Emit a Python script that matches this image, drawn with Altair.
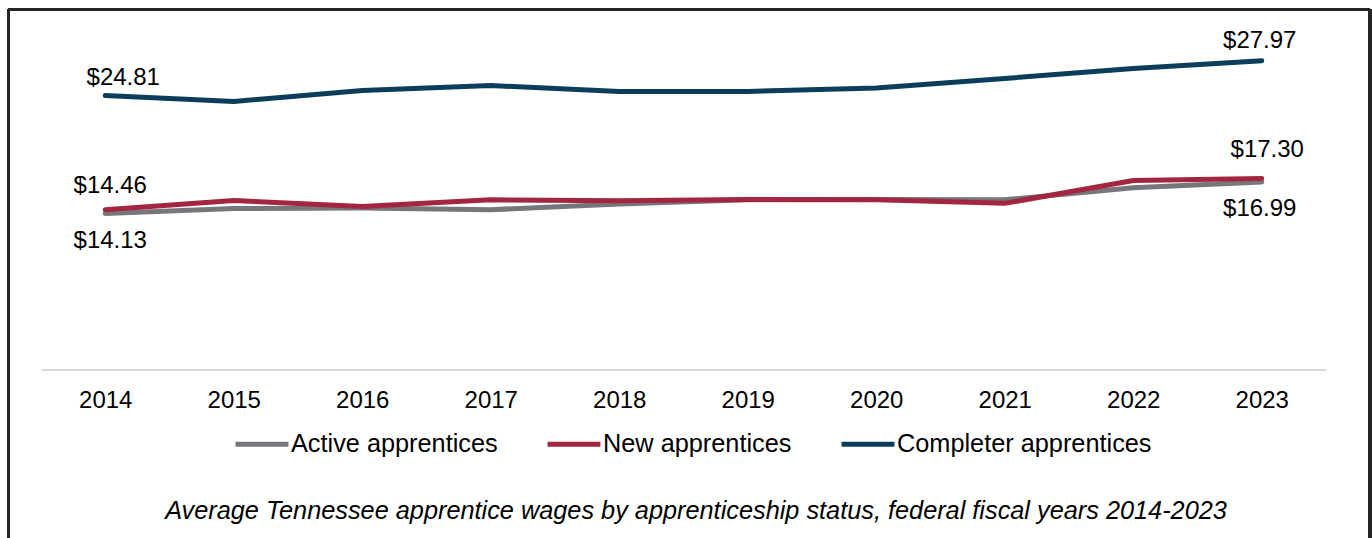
import altair as alt
import pandas as pd

# Average hourly wages (USD) by apprenticeship status, FFY 2014-2023
years = [2014, 2015, 2016, 2017, 2018, 2019, 2020, 2021, 2022, 2023]
active = [14.13, 14.58, 14.62, 14.47, 15.00, 15.38, 15.40, 15.37, 16.46, 16.99]
new = [14.46, 15.31, 14.76, 15.37, 15.28, 15.40, 15.37, 15.05, 17.12, 17.30]
completer = [24.81, 24.28, 25.27, 25.72, 25.18, 25.18, 25.50, 26.36, 27.26, 27.97]

series_names = ["Active apprentices", "New apprentices", "Completer apprentices"]
series_colors = ["#76777b", "#a4253f", "#0c3d5c"]

rows = []
for name, vals in zip(series_names, [active, new, completer]):
    for yr, v in zip(years, vals):
        rows.append({"year": str(yr), "series": name, "wage": v})
df = pd.DataFrame(rows)

W, H = 1372, 538
FONT = "Liberation Sans"

x_enc = alt.X(
    "year:O",
    scale=alt.Scale(type="point", range=[41, 1326], padding=0.5),
    axis=alt.Axis(
        title=None,
        orient="bottom",
        offset=-168.5,
        domainColor="#d9d9d9",
        domainWidth=2,
        ticks=False,
        tickSize=0,
        labelAngle=0,
        labelFont=FONT,
        labelFontSize=24,
        labelColor="#000000",
        labelPadding=19,
        grid=False,
    ),
)
y_enc = alt.Y(
    "wage:Q",
    scale=alt.Scale(domain=[0, 30], range=[369.5, 38.3]),
    axis=None,
)

base = alt.Chart(df)

lines = base.mark_line(strokeWidth=5, strokeCap="round", strokeJoin="round").encode(
    x=x_enc,
    y=y_enc,
    color=alt.Color(
        "series:N",
        scale=alt.Scale(domain=series_names, range=series_colors),
        legend=alt.Legend(
            title=None,
            orient="none",
            legendX=233,
            legendY=415,
            direction="horizontal",
            symbolType="stroke",
            symbolSize=2800,
            symbolStrokeWidth=5,
            labelFont=FONT,
            labelFontSize=25.3,
            labelColor="#000000",
            labelOffset=0,
            columnPadding=39,
            padding=0,
            labelLimit=400,
        ),
    ),
    order=alt.Order("year:O"),
)


def value_label(series, year, dx, dy):
    return (
        base.transform_filter(
            (alt.datum.series == series) & (alt.datum.year == str(year))
        )
        .mark_text(font=FONT, fontSize=24, color="#000000", dx=dx, dy=dy, baseline="middle")
        .encode(x=x_enc, y=y_enc, text=alt.Text("wage:Q", format="$.2f"))
    )


labels = [
    value_label("Completer apprentices", 2014, 18, -18),
    value_label("Completer apprentices", 2023, -2, -20),
    value_label("New apprentices", 2014, 5, -23.5),
    value_label("Active apprentices", 2014, 5, 27),
    value_label("New apprentices", 2023, 5.5, -28.5),
    value_label("Active apprentices", 2023, -2, 27.5),
]

# Frame around the figure (left, top and right edges)
frame_color = "#262626"
frame_left = base.mark_rule(color=frame_color, strokeWidth=2.5).encode(
    x=alt.value(8.5), y=alt.value(9.5), y2=alt.value(560)
)
frame_top = base.mark_rule(color=frame_color, strokeWidth=2.5).encode(
    x=alt.value(8.5), x2=alt.value(1370), y=alt.value(9.5)
)
frame_right = base.mark_rule(color=frame_color, strokeWidth=2.5).encode(
    x=alt.value(1370), y=alt.value(9.5), y2=alt.value(560)
)

chart = (
    alt.layer(lines, *labels, frame_left, frame_top, frame_right)
    .properties(
        width=W,
        height=H,
        padding=0,
        autosize=alt.AutoSizeParams(type="none"),
        background="#ffffff",
        title=alt.TitleParams(
            "Average Tennessee apprentice wages by apprenticeship status, federal fiscal years 2014-2023",
            orient="bottom",
            anchor="middle",
            font=FONT,
            fontSize=25.3,
            fontStyle="italic",
            fontWeight="normal",
            color="#000000",
            baseline="middle",
            offset=-50,
            dx=10,
        ),
    )
    .configure_view(stroke=None)
)

chart.save("out.html", embed_options={"renderer": "svg", "actions": False})
